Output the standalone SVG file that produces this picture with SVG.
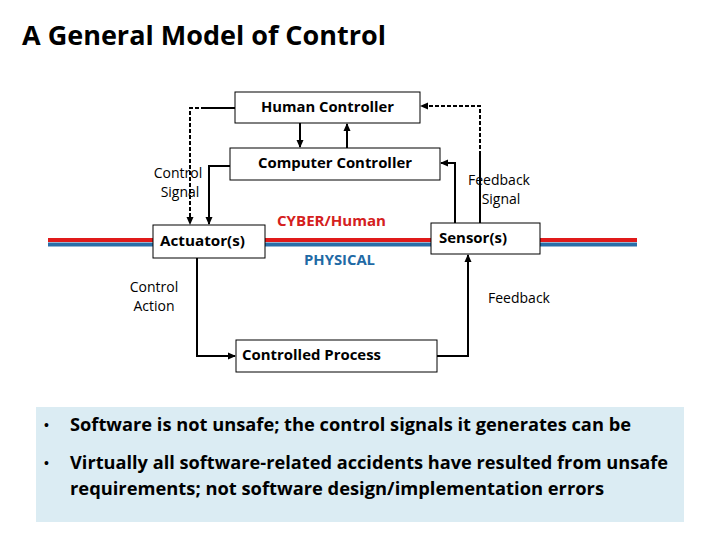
<svg xmlns="http://www.w3.org/2000/svg" width="720" height="540" viewBox="0 0 720 540">
<defs>
<marker id="ah" markerWidth="8" markerHeight="8" refX="7" refY="4" orient="auto" markerUnits="userSpaceOnUse"><path d="M0,0.5 L8,4 L0,7.5 z" fill="#000"/></marker>
<style>
.box{fill:#fff;stroke:#000;stroke-width:1}
.bt{font-family:"Open Sans","Liberation Sans",sans-serif;font-weight:bold;font-size:14px;fill:#000}
.lt{font-family:"Open Sans","Liberation Sans",sans-serif;font-size:14px;fill:#000;text-anchor:middle}
.c{fill:none;stroke:#000;stroke-width:2}
.d{fill:none;stroke:#000;stroke-width:2;stroke-dasharray:4 2}
.red{stroke:#e01a1a;stroke-width:4;fill:none}
.blue{stroke:#2a6ea8;stroke-width:4;fill:none}
.bul{font-family:"Open Sans","Liberation Sans",sans-serif;font-weight:bold;font-size:18px;fill:#000}
.dot{font-family:"Liberation Sans",sans-serif;font-size:14px;fill:#000}
</style>
</defs>
<rect width="720" height="540" fill="#fff"/>
<text x="22" y="45" font-family="Open Sans, Liberation Sans, sans-serif" font-weight="bold" font-size="27" textLength="364" lengthAdjust="spacingAndGlyphs">A General Model of Control</text>

<g id="rails">
<line class="red" x1="48" y1="240" x2="153" y2="240"/>
<line class="blue" x1="48" y1="244.5" x2="153" y2="244.5"/>
<line class="red" x1="265" y1="240" x2="431" y2="240"/>
<line class="blue" x1="265" y1="244.5" x2="431" y2="244.5"/>
<line class="red" x1="540" y1="240" x2="637" y2="240"/>
<line class="blue" x1="540" y1="244.5" x2="637" y2="244.5"/>
</g>

<g id="connectors">
<path class="c" d="M235,108 H205"/>
<path class="d" d="M205,108 H190 V224" marker-end="url(#ah)"/>
<path class="c" d="M230,166 H209 V224" marker-end="url(#ah)"/>
<path class="c" d="M300,123 V147" marker-end="url(#ah)"/>
<path class="c" d="M347,148 V124" marker-end="url(#ah)"/>
<path class="c" d="M455,223 V163 H441" marker-end="url(#ah)"/>
<path class="c" d="M480,223 V155"/>
<path class="d" d="M480,155 V106 H421" marker-end="url(#ah)"/>
<path class="c" d="M197,258 V356 H235" marker-end="url(#ah)"/>
<path class="c" d="M437,356 H468 V255" marker-end="url(#ah)"/>
</g>

<g id="human"><rect class="box" x="235" y="92" width="185" height="31"/><text class="bt" x="261" y="112" textLength="133" lengthAdjust="spacingAndGlyphs">Human Controller</text></g>
<g id="computer"><rect class="box" x="230" y="148" width="210" height="32"/><text class="bt" x="258" y="168" textLength="154" lengthAdjust="spacingAndGlyphs">Computer Controller</text></g>
<g id="actuator"><rect class="box" x="153" y="225" width="112" height="33"/><text class="bt" x="160" y="246" textLength="85" lengthAdjust="spacingAndGlyphs">Actuator(s)</text></g>
<g id="sensor"><rect class="box" x="431" y="223" width="109" height="31"/><text class="bt" x="439" y="243" textLength="68" lengthAdjust="spacingAndGlyphs">Sensor(s)</text></g>
<g id="process"><rect class="box" x="236" y="340" width="201" height="32"/><text class="bt" x="242" y="360" textLength="139" lengthAdjust="spacingAndGlyphs">Controlled Process</text></g>

<g id="labels">
<text class="bt" x="277" y="226" style="fill:#d42020" textLength="109" lengthAdjust="spacingAndGlyphs">CYBER/Human</text>
<text class="bt" x="304" y="265" style="fill:#1f6aa5" textLength="71" lengthAdjust="spacingAndGlyphs">PHYSICAL</text>
<text class="lt" x="178" y="178">Control</text>
<text class="lt" x="180" y="197">Signal</text>
<text class="lt" x="499" y="185">Feedback</text>
<text class="lt" x="501" y="204">Signal</text>
<text class="lt" x="154" y="292">Control</text>
<text class="lt" x="154" y="311">Action</text>
<text class="lt" x="519" y="303">Feedback</text>
</g>

<g id="notes">
<rect x="36" y="407" width="648" height="115" fill="#dbecf3"/>
<text class="dot" x="44" y="430">•</text>
<text class="bul" x="70" y="431" textLength="561" lengthAdjust="spacingAndGlyphs">Software is not unsafe; the control signals it generates can be</text>
<text class="dot" x="44" y="468">•</text>
<text class="bul" x="70" y="469" textLength="598" lengthAdjust="spacingAndGlyphs">Virtually all software-related accidents have resulted from unsafe</text>
<text class="bul" x="70" y="495" textLength="534" lengthAdjust="spacingAndGlyphs">requirements; not software design/implementation errors</text>
</g>
</svg>
